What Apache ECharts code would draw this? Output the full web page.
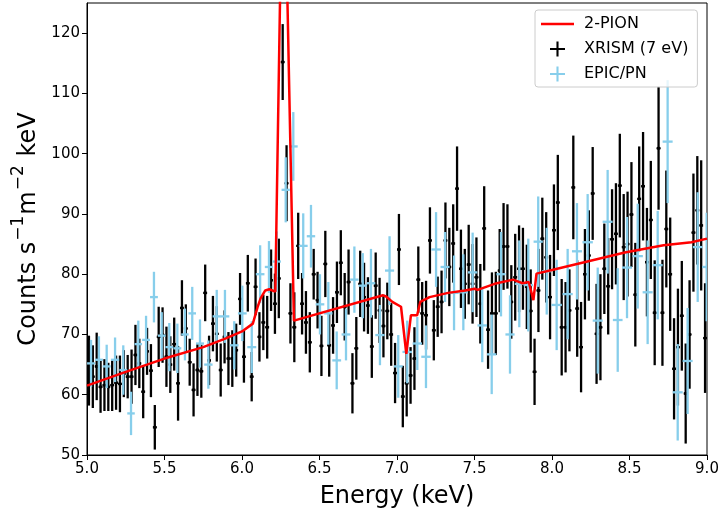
<!DOCTYPE html>
<html><head><meta charset="utf-8">
<script src="https://cdn.jsdelivr.net/npm/echarts@6/dist/echarts.min.js"></script>
<style>html,body{margin:0;padding:0;background:#fff}#c{width:721px;height:519px}</style>
</head><body><div id="c"></div>
<script>
// XRISM (7 eV) spectrum: bin centres start at 5.0125 keV, 0.025 keV wide bins
const xrismStart = 5.0125;
const xrismBin = 0.025;
const xrismRate = [
 64, 63, 64.7, 61.3, 61.6, 61.3, 61.6, 62, 61.8, 63.5, 63, 63, 66.6, 65.2, 60.5, 67.2, 64, 54.6, 69.6, 69.9, 66.3, 65, 68.4, 61.9,
 74.4, 71, 65.4, 60.8, 64.1, 63.9, 76.9, 65.7, 71.8, 70.1, 64.1, 69.6, 66, 66, 67.4, 75.9, 66.3, 78.5, 63, 77.9, 69.6, 72,
 71.2, 79, 75.1, 79.3, 115.2, 95.1, 73.5, 71.2, 84.7, 75.1, 72, 68.7, 80, 75.7, 68.1, 81.7, 68.2, 71.5, 77, 81.9, 74.6, 78.7, 61.9,
 67.7, 78.4, 76.2, 74.8, 68, 78.1, 74, 71.4, 73.9, 70, 63.6, 84.1, 59.7, 61.9, 63.2, 66, 79.1, 73.5, 73.2, 85.6, 70.7, 74.6, 75.4, 85.6,
 81.2, 85.1, 94.2, 80.9, 78.4, 81.6, 78.4, 79.5, 75.1, 87.6, 70.8, 73.5, 73.5, 80.6, 84.6, 84.6, 75.4, 79.5, 80.9, 80.9, 77.9, 73.9, 63.8,
 77.3, 85.9, 82.8, 76.2, 87.3, 91.9, 71.2, 71.2, 74, 94.4, 74.3, 67.9, 80, 83.1, 93.4, 70.1, 71.2, 80.9, 78, 85.8, 86.7, 94.7, 84.5, 85,
 89.9, 76.6, 92.5, 94.6, 82, 89, 73.6, 100.9, 73.6, 87.5, 80, 64.3, 67.9, 73.1, 60.2, 70, 86.9, 90.6, 88.1, 69.4
];
const xrismErr = [
 5.8, 5.2, 5.6, 4.3, 4.3, 4, 4.3, 4.5, 4.7, 3.9, 3.6, 4.5, 5, 4.1, 4.4, 3.9, 4.4, 3.7, 5, 4.6, 5, 4.7, 4.4, 6.2,
 4.6, 4, 3.9, 4.4, 4.3, 4.4, 4.7, 4.1, 4.6, 4.6, 4.4, 4.4, 4.4, 4.7, 4.4, 4.3, 4.3, 4.7, 4.1, 4.7, 4.1, 4.6,
 5.2, 5.1, 5, 6.6, 6.3, 6.3, 5, 5.8, 5.5, 5.1, 5.2, 5, 4.2, 4.7, 5, 5.5, 5.2, 4.7, 5.1, 5.4, 5.6, 5.4, 5,
 5.2, 5.5, 5.7, 4.7, 5.2, 5.5, 5.4, 5.2, 4.7, 5.2, 5, 5.9, 5.1, 5.5, 4.7, 5.2, 5.5, 5.2, 5.7, 5.5, 5, 5, 5.2, 6.3,
 6.5, 6.5, 7, 6.5, 5.8, 6.6, 6.6, 6.6, 6.6, 7, 6.5, 6.8, 6.9, 6.9, 7.2, 7, 6.1, 7.2, 7.2, 6.8, 7, 6.9, 5.5,
 6.9, 6.8, 7.5, 7, 7.6, 7.9, 8, 7.5, 6.8, 8.6, 8, 7.5, 7.5, 7.5, 7.7, 8.3, 8.8, 7.5, 8, 8.3, 8.4, 8.6, 8.8, 8.7,
 8.7, 8.6, 8.7, 9, 9, 9.8, 8.7, 10.2, 8.8, 9.7, 9.4, 8.4, 9.7, 9.1, 8.3, 9, 9.8, 9, 10.8, 9.1
];
// EPIC/PN spectrum
const epicEnergy = [
 5.026, 5.077, 5.127, 5.181, 5.234, 5.284, 5.331, 5.381, 5.432, 5.482,
 5.531, 5.583, 5.632, 5.679, 5.729, 5.783, 5.837, 5.890, 5.950, 6.002,
 6.063, 6.117, 6.174, 6.224, 6.282, 6.331, 6.395, 6.445, 6.503, 6.557,
 6.611, 6.671, 6.725, 6.779, 6.832, 6.890, 6.952, 7.008, 7.066, 7.131,
 7.187, 7.252, 7.310, 7.368, 7.428, 7.488, 7.550, 7.611, 7.671, 7.729,
 7.789, 7.847, 7.911, 7.966, 8.030, 8.101, 8.161, 8.230, 8.295, 8.359,
 8.424, 8.484, 8.553, 8.617, 8.682, 8.746, 8.811, 8.875, 8.940, 8.998
];
const epicRate = [
 65.2, 65.8, 64.7, 65.8, 64.1, 56.9, 68.4, 69.1, 76.2, 69.8,
 67.9, 67.7, 70, 73.5, 68.5, 65, 73, 73, 68.2, 73.5,
 67.9, 80, 81.2, 82.1, 94, 101.2, 84.7, 86.3, 75, 73.5,
 65.7, 70, 79.1, 78.1, 78.5, 69.9, 80.6, 64.7, 67.1, 68.5,
 66.3, 84.1, 81.2, 76.9, 77, 80.3, 71.5, 66.7, 80, 70,
 78.4, 78.2, 85.4, 80.5, 74.9, 76.7, 83.8, 85.3, 72.3, 88.7,
 72.4, 81.1, 83, 77, 81.5, 102, 60.4, 65.6, 84.5, 81.2
];
const epicErr = [
 3.9, 3.9, 3.6, 3.7, 4.1, 3.6, 3.9, 4, 4.2, 3.9,
 4, 4.1, 4.3, 4.4, 4, 4, 4.4, 4.4, 4, 4.6,
 4.3, 4.8, 4.3, 5, 5.4, 5.7, 5.4, 5.2, 5, 5.2,
 4.8, 4.3, 5.5, 5.4, 5.7, 5, 5.7, 5.2, 5.2, 4.4,
 5.2, 6.2, 5.8, 6.2, 6.3, 6.6, 6.1, 6.6, 7, 6.5,
 7.2, 7.7, 7.5, 7.2, 7.5, 7.5, 8, 8, 8.8, 8.6,
 8.6, 8.4, 8.7, 8.6, 9, 10.2, 8, 8.8, 9.1, 9
];
// 2-PION model
const modelEnergy = [5.0, 5.25, 5.5, 5.75, 5.9, 6.0, 6.07, 6.1, 6.12, 6.15, 6.176, 6.215, 6.25, 6.28, 6.335,
 6.91, 6.93, 6.97, 7.026, 7.06, 7.09, 7.13, 7.15, 7.21, 7.33, 7.44, 7.5, 7.52, 7.63, 7.75, 7.77, 7.81, 7.85,
 7.88, 7.9, 8.0, 8.47, 8.72, 8.9, 9.0];
const modelRate = [61.5, 63.8, 66.0, 67.9, 69.4, 70.5, 71.8, 74.5, 76.0, 77.3, 77.5, 77.1, 133, 142, 72.3,
 76.5, 76.3, 75.4, 74.6, 66.8, 73.2, 73.2, 75.4, 76.2, 76.9, 77.3, 77.6, 77.4, 78.4, 79.1, 78.9, 78.5, 78.7,
 75.7, 80.1, 80.7, 83.6, 84.8, 85.3, 85.9];

const seriesNames = ['2-PION', 'XRISM (7 eV)', 'EPIC/PN'];
const xLabel = 'Energy (keV)';

const FONT = 'DejaVu Sans';
const xrismData = xrismRate.map((v, i) => [xrismStart + xrismBin * i, v, xrismErr[i], xrismBin / 2]);
const epicData = epicRate.map((v, i) => {
  const lo = i > 0 ? epicEnergy[i - 1] : 2 * epicEnergy[0] - epicEnergy[1];
  const hi = i < epicEnergy.length - 1 ? epicEnergy[i + 1] : 2 * epicEnergy[i] - epicEnergy[i - 1];
  return [epicEnergy[i], v, epicErr[i], (hi - lo) / 4];
});
const modelData = modelEnergy.map((e, i) => [e, modelRate[i]]);

function errRender(color, dot) {
  return function (params, api) {
    const x = api.value(0), y = api.value(1), e = api.value(2), xe = api.value(3);
    const a = api.coord([x, y + e]), b = api.coord([x, y - e]);
    const l = api.coord([x - xe, y]), r = api.coord([x + xe, y]);
    const c = api.coord([x, y]);
    const kids = [
      { type: 'line', shape: { x1: a[0], y1: a[1], x2: b[0], y2: b[1] }, style: { stroke: color, lineWidth: 2.3 } },
      { type: 'line', shape: { x1: l[0], y1: l[1], x2: r[0], y2: r[1] }, style: { stroke: color, lineWidth: 2.3 } }
    ];
    if (dot) kids.push({ type: 'circle', shape: { cx: c[0], cy: c[1], r: 1.7 }, style: { fill: color } });
    return { type: 'group', children: kids };
  };
}

const plusIcon = 'path://M4.3,0H5.7V4.3H10V5.7H5.7V10H4.3V5.7H0V4.3H4.3Z';
const chart = echarts.init(document.getElementById('c'), null, { renderer: 'canvas' });
chart.setOption({
  animation: false,
  backgroundColor: '#fff',
  grid: { left: 87, right: 14, top: 3, bottom: 64, show: true, borderColor: '#000', borderWidth: 1, outerBoundsMode: 'none' },
  xAxis: {
    type: 'value', min: 5, max: 9, interval: 0.5,
    name: xLabel, nameLocation: 'middle', nameGap: 30,
    nameTextStyle: { fontSize: 24, fontFamily: FONT, color: '#000' },
    axisLine: { show: true, onZero: false, lineStyle: { color: '#000', width: 1 } },
    axisTick: { show: true, inside: false, length: 5, lineStyle: { color: '#000' } },
    axisLabel: { fontSize: 15, fontFamily: FONT, color: '#000', margin: 7, formatter: v => v.toFixed(1) },
    splitLine: { show: false }
  },
  yAxis: {
    type: 'value', min: 50, max: 125, interval: 10,
    name: '{a|Counts s}{s|−1}{a|m}{s|−2}{a| keV}', nameLocation: 'middle', nameGap: 42, nameRotate: 90,
    nameTextStyle: {
      fontSize: 24, fontFamily: FONT, color: '#000',
      rich: {
        a: { fontSize: 24, fontFamily: FONT, color: '#000', lineHeight: 30, verticalAlign: 'bottom' },
        s: { fontSize: 17, fontFamily: FONT, color: '#000', verticalAlign: 'top', lineHeight: 18, padding: [0, 1, 0, 1] }
      }
    },
    axisLine: { show: true, onZero: false, lineStyle: { color: '#000', width: 1 } },
    axisTick: { show: true, inside: false, length: 5, lineStyle: { color: '#000' } },
    axisLabel: { fontSize: 15, fontFamily: FONT, color: '#000', margin: 7, showMaxLabel: false },
    splitLine: { show: false }
  },
  legend: {
    orient: 'vertical', left: 535, top: 10,
    backgroundColor: 'rgba(255,255,255,0.8)', borderColor: '#cccccc', borderWidth: 1, borderRadius: 3,
    padding: [6, 9, 5, 6], itemGap: 9, itemWidth: 33, itemHeight: 15,
    textStyle: { fontSize: 16, fontFamily: FONT, color: '#000', padding: [0, 0, 0, 5] },
    data: [
      { name: seriesNames[0], icon: 'path://M0,0H33V2.3H0Z' },
      { name: seriesNames[1], icon: plusIcon },
      { name: seriesNames[2], icon: plusIcon }
    ]
  },
  series: [
    {
      name: seriesNames[1], type: 'custom', data: xrismData, clip: true, z: 2,
      encode: { x: 0, y: 1 }, itemStyle: { color: '#000000' },
      renderItem: errRender('#000000', true)
    },
    {
      name: seriesNames[2], type: 'custom', data: epicData, clip: true, z: 3,
      encode: { x: 0, y: 1 }, itemStyle: { color: '#87ceeb' },
      renderItem: errRender('#87ceeb', false)
    },
    {
      name: seriesNames[0], type: 'line', data: modelData, clip: true, z: 4,
      showSymbol: false, symbol: 'none', color: '#ff0000',
      lineStyle: { color: '#ff0000', width: 2.5 }, itemStyle: { color: '#ff0000' }
    }
  ]
});
</script>
</body></html>
